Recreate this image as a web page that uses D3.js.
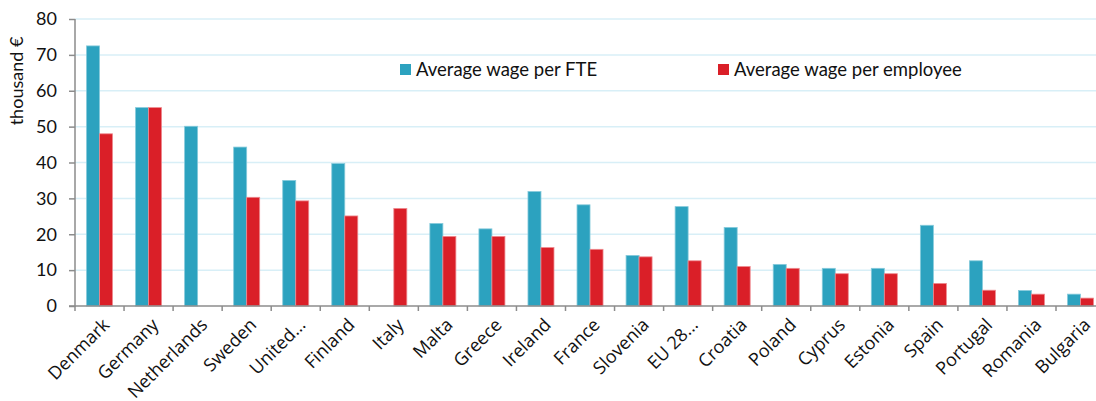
<!DOCTYPE html>
<html>
<head>
<meta charset="utf-8">
<script src="https://cdn.jsdelivr.net/npm/d3@7"></script>
<style>
  body { margin: 0; background: #fff; }
  svg { display: block; }
</style>
</head>
<body>
<div class="display"></div>
<script>
const WIDTH = 1096;
const HEIGHT = 401;
const PLOT_LEFT = 75;
const PLOT_TOP = 19;
const PLOT_BOTTOM = 306;
const BAND = 49.05;
const BAR_W = 13;

const COUNTRIES = ['Denmark', 'Germany', 'Netherlands', 'Sweden', 'United...', 'Finland', 'Italy',
  'Malta', 'Greece', 'Ireland', 'France', 'Slovenia', 'EU 28...', 'Croatia', 'Poland', 'Cyprus',
  'Estonia', 'Spain', 'Portugal', 'Romania', 'Bulgaria'];
const WAGE_FTE = [72.5, 55.3, 50.1, 44.3, 35.0, 39.7, null, 23.0, 21.5, 31.9, 28.2, 14.1, 27.7,
  21.9, 11.6, 10.5, 10.5, 22.5, 12.6, 4.3, 3.3];
const WAGE_EMPLOYEE = [48.0, 55.3, null, 30.3, 29.3, 25.1, 27.2, 19.4, 19.4, 16.3, 15.8, 13.7, 12.6,
  11.0, 10.5, 9.0, 9.0, 6.3, 4.4, 3.3, 2.2];
const Y_TICKS = [0, 10, 20, 30, 40, 50, 60, 70, 80];
const SERIES = ['Average wage per FTE', 'Average wage per employee'];
const COLORS = ['#2ca2bf', '#da1f28'];
const STROKES = ['#86cadb', '#ee8a8f'];

const svg = d3.select('.display')
  .append('svg')
  .attr('width', WIDTH)
  .attr('height', HEIGHT)
  .style('font-family', 'Lato, "Open Sans", sans-serif');

const x = d3.scaleBand()
  .domain(COUNTRIES)
  .range([PLOT_LEFT, PLOT_LEFT + BAND * COUNTRIES.length]);

const y = d3.scaleLinear()
  .domain([0, 80])
  .range([PLOT_BOTTOM, PLOT_TOP]);

// gridlines
svg.append('g')
  .selectAll('line')
  .data(Y_TICKS.filter(d => d > 0))
  .enter()
  .append('line')
  .attr('x1', PLOT_LEFT)
  .attr('x2', WIDTH)
  .attr('y1', d => y(d))
  .attr('y2', d => y(d))
  .attr('stroke', '#d8eff7')
  .attr('stroke-width', 1.5);

// bars
const seriesData = [WAGE_FTE, WAGE_EMPLOYEE];
seriesData.forEach((values, s) => {
  svg.append('g')
    .selectAll('rect')
    .data(COUNTRIES.map((c, i) => ({ c, v: values[i] })).filter(d => d.v !== null))
    .enter()
    .append('rect')
    .attr('x', d => x(d.c) + x.bandwidth() / 2 - BAR_W + s * BAR_W)
    .attr('y', d => y(d.v))
    .attr('width', BAR_W)
    .attr('height', d => PLOT_BOTTOM - y(d.v))
    .attr('fill', COLORS[s])
    .attr('stroke', STROKES[s])
    .attr('stroke-width', 0.8);
});

// y axis
const yAxis = svg.append('g')
  .attr('transform', `translate(${PLOT_LEFT}, 0)`)
  .call(d3.axisLeft(y).tickValues(Y_TICKS).tickSize(6).tickPadding(12));
yAxis.selectAll('line, path').attr('stroke', '#8c8c8c').attr('stroke-width', 1.5);
yAxis.selectAll('text')
  .attr('font-size', 18)
  .attr('font-family', 'Lato, sans-serif')
  .attr('fill', '#111');
yAxis.select('.domain').attr('d', `M-6,${PLOT_BOTTOM}H0V${PLOT_TOP}`);

// x axis: ticks sit on band boundaries
const xAxis = svg.append('g');
xAxis.append('line')
  .attr('x1', PLOT_LEFT)
  .attr('x2', WIDTH)
  .attr('y1', PLOT_BOTTOM)
  .attr('y2', PLOT_BOTTOM)
  .attr('stroke', '#8c8c8c')
  .attr('stroke-width', 1.5);
xAxis.selectAll('.tick')
  .data(COUNTRIES)
  .enter()
  .append('line')
  .attr('x1', d => x(d))
  .attr('x2', d => x(d))
  .attr('y1', PLOT_BOTTOM)
  .attr('y2', PLOT_BOTTOM + 5)
  .attr('stroke', '#8c8c8c')
  .attr('stroke-width', 1.5);
xAxis.selectAll('.label')
  .data(COUNTRIES)
  .enter()
  .append('text')
  .attr('transform', d => `translate(${x(d) + x.bandwidth() / 2 + 11}, ${PLOT_BOTTOM + 20}) rotate(-45)`)
  .attr('text-anchor', 'end')
  .attr('font-family', '"Open Sans", sans-serif')
  .attr('font-size', 18)
  .attr('fill', '#111')
  .text(d => d);

// y title
svg.append('text')
  .attr('transform', 'translate(23, 81) rotate(-90)')
  .attr('text-anchor', 'middle')
  .attr('font-size', 18)
  .attr('fill', '#111')
  .text('thousand €');

// legend
const legendX = [400, 718];
SERIES.forEach((name, i) => {
  const g = svg.append('g').attr('transform', `translate(${legendX[i]}, 64)`);
  g.append('rect')
    .attr('width', 11)
    .attr('height', 11)
    .attr('fill', COLORS[i]);
  g.append('text')
    .attr('x', 16)
    .attr('y', 12)
    .attr('font-size', 18.5)
    .attr('fill', '#111')
    .text(name);
});
</script>
</body>
</html>
